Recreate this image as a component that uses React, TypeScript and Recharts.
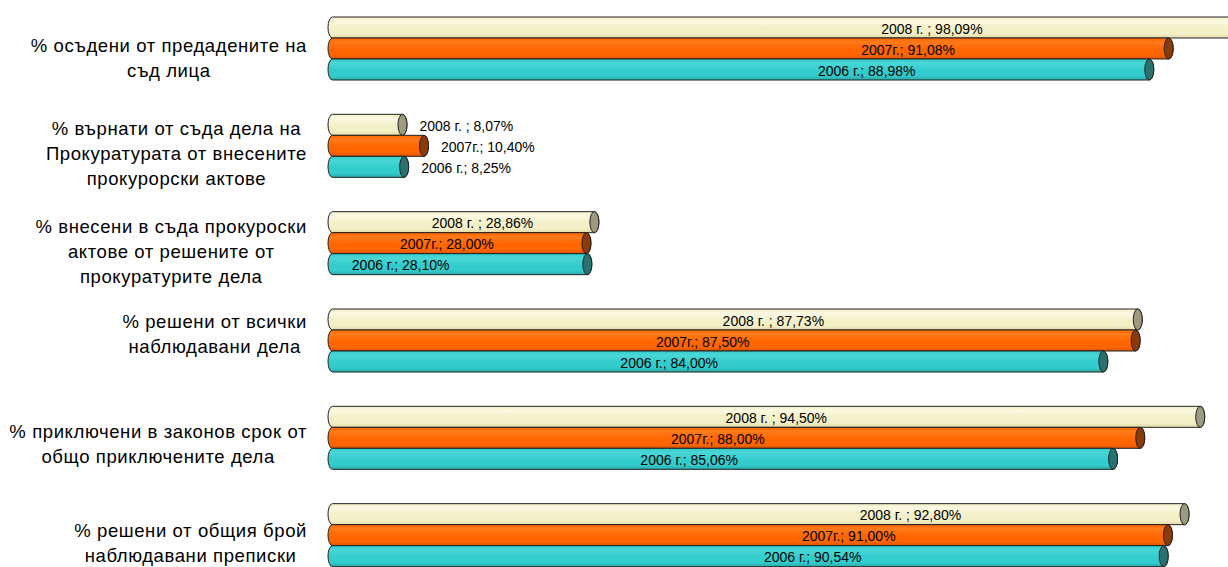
import { BarChart, Bar, XAxis, YAxis, LabelList } from 'recharts';

// categories (line breaks as in the original)
const categories = [
  '% осъдени от предадените на\nсъд лица',
  '% върнати от съда дела на\nПрокуратурата от внесените\nпрокурорски актове',
  '% внесени в съда прокуроски\nактове от решените от\nпрокуратурите дела',
  '% решени от всички\nнаблюдавани дела',
  '% приключени в законов срок от\nобщо приключените дела',
  '% решени от общия брой\nнаблюдавани преписки',
];

const values2008 = [98.09, 8.07, 28.86, 87.73, 94.5, 92.8];
const values2007 = [91.08, 10.4, 28.0, 87.5, 88.0, 91.0];
const values2006 = [88.98, 8.25, 28.1, 84.0, 85.06, 90.54];

const seriesPrefix = { y2008: '2008 г. ; ', y2007: '2007г.; ', y2006: '2006 г.; ' };

// where the label sits along each bar (fraction of bar length), null = outside the end
const labelAt2008 = [0.667, null, 0.58, 0.55, 0.514, 0.68];
const labelAt2007 = [0.69, null, 0.46, 0.464, 0.48, 0.62];
const labelAt2006 = [0.656, null, 0.28, 0.44, 0.46, 0.58];

// small vertical nudges of the category text blocks
const tickNudge = [3, 1, 2, -13, 0, 2];

const data = categories.map((name, i) => ({
  name,
  y2008: values2008[i],
  y2007: values2007[i],
  y2006: values2006[i],
}));

const FONT = '"Liberation Sans", Arial, sans-serif';
const CAT_SIZE = 18.5;
const CAT_SPACING = 0.6;

const palette: Record<string, { light: string; base: string; dark: string; cap: string }> = {
  y2008: { light: '#FBF9E2', base: '#F3EFC6', dark: '#E2DBA8', cap: '#9C9B80' },
  y2007: { light: '#FF7A1A', base: '#FF6600', dark: '#DD5500', cap: '#8C3A08' },
  y2006: { light: '#4AD6D6', base: '#33CCCC', dark: '#2AAAAA', cap: '#2A7272' },
};

let ctx: CanvasRenderingContext2D | null = null;
function measure(text: string) {
  if (!ctx) ctx = document.createElement('canvas').getContext('2d');
  if (!ctx) return text.length * CAT_SIZE * 0.55;
  ctx.font = `${CAT_SIZE}px "Liberation Sans"`;
  return ctx.measureText(text).width + text.length * CAT_SPACING;
}

function CategoryTick(props: any) {
  const { y, payload, index } = props;
  const lines: string[] = String(payload.value).split('\n');
  const lh = 25;
  const w = Math.max(...lines.map((l) => measure(l)));
  const cx = 307 - w / 2;
  const top = y + 6 + (tickNudge[index] || 0) - ((lines.length - 1) * lh) / 2;
  return (
    <g>
      {lines.map((l, i) => (
        <text
          key={i}
          x={cx}
          y={top + i * lh}
          textAnchor="middle"
          dominantBaseline="central"
          fontFamily={FONT}
          fontSize={CAT_SIZE}
          letterSpacing={CAT_SPACING}
          fill="#000"
        >
          {l}
        </text>
      ))}
    </g>
  );
}

function makeCylinder(key: string) {
  const c = palette[key];
  return (props: any) => {
    const { x, y, width, height } = props;
    if (width == null || width <= 0) return <g />;
    const rx = 4.5;
    const ry = height / 2;
    const x0 = x + rx;
    const x1 = x + width;
    const d = `M${x0},${y} L${x1},${y} A${rx},${ry} 0 0 1 ${x1},${y + height} L${x0},${y + height} A${rx},${ry} 0 0 1 ${x0},${y} Z`;
    return (
      <g>
        <defs>
          <linearGradient id={`g-${key}`} x1="0" y1="0" x2="0" y2="1">
            <stop offset="0" stopColor={c.base} />
            <stop offset="0.2" stopColor={c.light} />
            <stop offset="0.55" stopColor={c.base} />
            <stop offset="0.8" stopColor={c.base} />
            <stop offset="1" stopColor={c.dark} />
          </linearGradient>
        </defs>
        <path d={d} fill={`url(#g-${key})`} stroke="#222" strokeWidth={1} />
        <ellipse cx={x1} cy={y + ry} rx={rx} ry={ry} fill={c.cap} stroke="#222" strokeWidth={1} />
      </g>
    );
  };
}

function makeLabel(key: string, at: (number | null)[]) {
  return (props: any) => {
    const { x, y, width, height, value, index } = props;
    const text = seriesPrefix[key as keyof typeof seriesPrefix] + Number(value).toFixed(2).replace('.', ',') + '%';
    const f = at[index];
    const cy = y + height / 2 + 1;
    if (f == null) {
      return (
        <text x={x + width + 17} y={cy} textAnchor="start" dominantBaseline="central" fontFamily={FONT} fontSize={14} fill="#000">
          {text}
        </text>
      );
    }
    return (
      <text x={x + width * f} y={cy} textAnchor="middle" dominantBaseline="central" fontFamily={FONT} fontSize={14} fill="#000">
        {text}
      </text>
    );
  };
}

export default function App() {
  return (
    <div style={{ position: 'fixed', left: 0, top: 0, width: 1228, height: 567, overflow: 'hidden', background: '#fff' }}>
      <BarChart
        width={1251}
        height={584}
        data={data}
        layout="vertical"
        margin={{ top: 0, right: 0, bottom: 0, left: 0 }}
        barGap={0}
        barSize={21}
      >
        <XAxis type="number" domain={[0, 100]} hide />
        <YAxis type="category" dataKey="name" width={328} axisLine={false} tickLine={false} tick={<CategoryTick />} interval={0} />
        <Bar dataKey="y2008" isAnimationActive={false} shape={makeCylinder('y2008')}>
          <LabelList dataKey="y2008" content={makeLabel('y2008', labelAt2008)} />
        </Bar>
        <Bar dataKey="y2007" isAnimationActive={false} shape={makeCylinder('y2007')}>
          <LabelList dataKey="y2007" content={makeLabel('y2007', labelAt2007)} />
        </Bar>
        <Bar dataKey="y2006" isAnimationActive={false} shape={makeCylinder('y2006')}>
          <LabelList dataKey="y2006" content={makeLabel('y2006', labelAt2006)} />
        </Bar>
      </BarChart>
    </div>
  );
}
